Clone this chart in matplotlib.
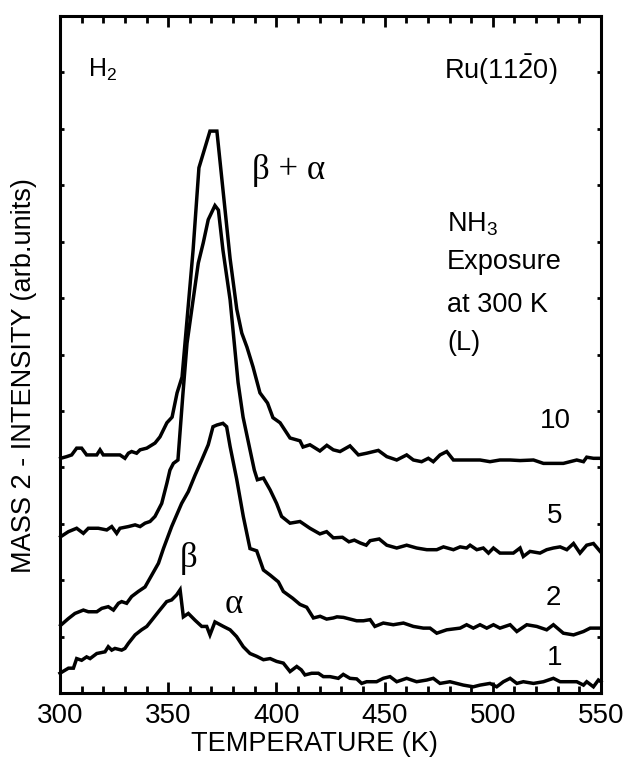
import matplotlib
matplotlib.use("Agg")
import matplotlib.pyplot as plt
from matplotlib.ticker import MultipleLocator

plt.rcParams["font.family"] = ["Liberation Sans", "DejaVu Sans"]
plt.rcParams["mathtext.fontset"] = "custom"
plt.rcParams["mathtext.rm"] = "Liberation Sans"
plt.rcParams["mathtext.it"] = "Liberation Sans"

# Thermal desorption traces of H2 (mass 2), offset vertically by exposure
t_10 = [300.3, 303.1, 305.4, 307.7, 310.0, 312.3, 317.0, 318.5, 320.0, 327.7, 330.0,
        331.6, 333.1, 335.4, 337.0, 340.1, 343.9, 346.2, 349.4, 351.8, 354.1, 356.4,
        361.5, 364.2, 369.3, 372.5, 378.6, 381.7, 384.0, 386.4, 389.2, 392.4, 395.9,
        398.4, 401.7, 406.3, 410.9, 412.3, 415.5, 420.1, 423.3, 426.3, 429.4, 434.0,
        437.9, 441.7, 447.1, 451.0, 455.6, 460.2, 463.3, 467.1, 470.2, 472.5, 475.6,
        478.7, 481.8, 487.9, 494.1, 498.7, 503.3, 508.0, 512.6, 518.8, 523.4, 532.6,
        538.8, 541.9, 543.4, 546.5, 550.0]
i_10 = [4.16, 4.19, 4.22, 4.34, 4.34, 4.22, 4.22, 4.31, 4.22, 4.22, 4.16,
        4.25, 4.28, 4.25, 4.31, 4.34, 4.43, 4.54, 4.79, 4.89, 5.32, 5.60,
        7.85, 9.31, 9.96, 9.96, 7.70, 6.80, 6.38, 6.13, 5.78, 5.32, 5.14,
        4.88, 4.79, 4.52, 4.47, 4.36, 4.40, 4.29, 4.39, 4.31, 4.28, 4.38,
        4.22, 4.25, 4.30, 4.19, 4.13, 4.22, 4.13, 4.10, 4.16, 4.10, 4.22,
        4.28, 4.13, 4.13, 4.13, 4.10, 4.13, 4.13, 4.12, 4.13, 4.07, 4.07,
        4.13, 4.10, 4.18, 4.16, 4.16]

t_5 = [300.3, 303.9, 307.7, 310.8, 313.1, 317.7, 321.6, 323.9, 326.2, 327.7, 331.6,
       334.7, 337.0, 339.3, 341.6, 343.9, 347.0, 349.4, 350.8, 352.4, 354.5, 356.8,
       358.7, 363.9, 366.2, 368.5, 371.6, 373.2, 375.3, 378.6, 382.3, 384.6, 387.8,
       389.8, 391.2, 394.0, 397.1, 400.1, 402.4, 406.3, 410.9, 415.5, 420.1, 423.2,
       426.3, 430.5, 433.5, 436.0, 438.7, 441.5, 443.3, 447.5, 451.0, 455.6, 460.2,
       464.8, 469.5, 474.1, 477.2, 481.8, 484.9, 487.9, 489.5, 492.6, 495.6, 498.0,
       500.3, 503.3, 509.5, 512.6, 514.1, 517.2, 521.8, 524.9, 528.0, 531.1, 534.2,
       537.3, 540.3, 543.4, 546.5, 549.6]
i_5 = [2.77, 2.86, 2.92, 2.83, 2.92, 2.92, 2.89, 2.95, 2.83, 2.92, 2.95,
       2.98, 2.95, 3.01, 3.04, 3.13, 3.36, 3.72, 3.95, 4.07, 4.13, 5.30,
       6.20, 7.62, 7.98, 8.39, 8.64, 8.56, 7.85, 6.97, 5.50, 4.89, 4.31,
       3.95, 3.78, 3.81, 3.60, 3.36, 3.13, 3.01, 3.04, 2.92, 2.82, 2.86,
       2.75, 2.76, 2.68, 2.71, 2.66, 2.62, 2.70, 2.73, 2.62, 2.57, 2.62,
       2.57, 2.54, 2.54, 2.59, 2.54, 2.59, 2.57, 2.62, 2.54, 2.57, 2.48,
       2.57, 2.48, 2.48, 2.57, 2.42, 2.51, 2.48, 2.54, 2.57, 2.59, 2.54,
       2.65, 2.48, 2.62, 2.65, 2.51]

t_2 = [300.3, 303.9, 306.9, 310.8, 313.1, 317.0, 319.3, 322.3, 324.7, 327.0, 328.5,
       330.8, 333.1, 336.2, 339.3, 342.4, 345.5, 347.8, 351.6, 356.2, 359.3, 362.4,
       365.5, 368.5, 370.7, 372.5, 375.3, 377.0, 378.6, 381.6, 384.7, 387.8, 390.9,
       394.0, 397.1, 400.9, 403.2, 407.5, 410.9, 414.0, 417.1, 420.2, 423.2, 426.3,
       428.0, 431.0, 437.1, 440.2, 443.3, 445.5, 449.4, 454.0, 458.7, 463.3, 467.9,
       471.0, 474.1, 478.7, 484.9, 487.9, 491.0, 494.1, 497.2, 500.3, 503.3, 508.0,
       511.1, 515.7, 520.3, 524.9, 528.0, 532.6, 537.3, 541.9, 545.0, 549.6]
i_2 = [1.20, 1.32, 1.41, 1.47, 1.44, 1.44, 1.50, 1.53, 1.47, 1.59, 1.62,
       1.59, 1.71, 1.80, 1.88, 2.09, 2.30, 2.56, 2.95, 3.36, 3.57, 3.86,
       4.13, 4.40, 4.72, 4.75, 4.78, 4.72, 4.37, 3.80, 3.13, 2.56, 2.52,
       2.18, 2.09, 1.97, 1.80, 1.68, 1.57, 1.52, 1.33, 1.36, 1.31, 1.33,
       1.35, 1.34, 1.28, 1.28, 1.30, 1.18, 1.24, 1.21, 1.24, 1.18, 1.15,
       1.15, 1.06, 1.12, 1.15, 1.21, 1.15, 1.21, 1.15, 1.21, 1.15, 1.21,
       1.09, 1.21, 1.18, 1.12, 1.21, 1.06, 1.03, 1.09, 1.15, 1.15]

t_1 = [300.0, 303.9, 306.2, 307.7, 310.0, 312.3, 313.9, 317.0, 320.8, 322.3, 323.9,
       325.4, 328.5, 330.0, 331.6, 334.7, 337.7, 340.1, 342.4, 345.5, 349.3, 351.6,
       353.9, 355.5, 357.0, 359.3, 362.4, 365.5, 367.8, 369.3, 371.6, 375.5, 378.6,
       381.6, 384.7, 387.8, 390.9, 394.0, 397.1, 400.1, 403.2, 406.3, 409.4, 411.5,
       413.2, 416.3, 419.4, 421.7, 424.8, 428.6, 430.9, 434.0, 437.1, 439.4, 441.7,
       446.3, 449.4, 452.5, 455.6, 460.2, 464.8, 469.5, 472.5, 475.6, 480.2, 486.4,
       491.0, 494.1, 498.7, 501.8, 504.9, 508.0, 511.1, 514.1, 518.8, 523.4, 528.0,
       531.1, 534.2, 538.8, 541.9, 543.4, 546.5, 548.8, 550.0]
i_1 = [0.35, 0.44, 0.44, 0.61, 0.58, 0.64, 0.61, 0.70, 0.73, 0.82, 0.76,
       0.79, 0.76, 0.79, 0.88, 1.03, 1.12, 1.18, 1.29, 1.44, 1.62, 1.65,
       1.74, 1.83, 1.35, 1.41, 1.29, 1.18, 1.18, 1.03, 1.26, 1.18, 1.12,
       1.00, 0.82, 0.70, 0.65, 0.59, 0.61, 0.56, 0.53, 0.38, 0.47, 0.41,
       0.32, 0.35, 0.35, 0.29, 0.29, 0.26, 0.33, 0.26, 0.25, 0.17, 0.20,
       0.20, 0.26, 0.29, 0.20, 0.26, 0.20, 0.23, 0.26, 0.17, 0.20, 0.14,
       0.11, 0.14, 0.17, 0.11, 0.20, 0.26, 0.17, 0.20, 0.17, 0.20, 0.26,
       0.20, 0.20, 0.20, 0.14, 0.20, 0.11, 0.23, 0.20]

exposure_labels = ["10", "5", "2", "1"]
label_x = [528.7, 528.7, 527.8, 528.7]
label_y = [4.82, 3.14, 1.68, 0.62]

fig = plt.figure(figsize=(6.24, 7.58), dpi=100)
ax = fig.add_axes([60 / 624, 65 / 758, 541 / 624, 677 / 758])

lw = 2.5
for t, i in [(t_10, i_10), (t_5, i_5), (t_2, i_2), (t_1, i_1)]:
    ax.plot(t, i, color="black", lw=lw, solid_joinstyle="miter", clip_on=False)

ax.set_xlim(300, 550)
ax.set_ylim(0, 12)

for sp in ax.spines.values():
    sp.set_linewidth(2.2)

ax.xaxis.set_major_locator(MultipleLocator(50))
ax.xaxis.set_minor_locator(MultipleLocator(10))
ax.yaxis.set_major_locator(MultipleLocator(1))
ax.tick_params(axis="x", which="major", direction="in", length=8, width=2,
               top=True, labelsize=20, pad=7)
ax.tick_params(axis="x", which="minor", direction="in", length=5, width=2, top=True)
ax.tick_params(axis="y", which="major", direction="in", length=3, width=2,
               right=True, labelleft=False)

fig.text(314 / 624, 1 - 757 / 758, "TEMPERATURE (K)", ha="center", va="bottom",
         fontsize=19.5)
fig.text(24 / 624, 1 - 376 / 758, "MASS 2 - INTENSITY (arb.units)", ha="center",
         va="center", rotation=90, fontsize=19.5)

ax.text(312.8, 11.05, r"H$_2$", fontsize=18, ha="left", va="center")
ax.text(529.7, 11.05, r"Ru(11$\mathrm{\bar{2}}$0)", fontsize=19.5, ha="right", va="center")
ax.text(388.7, 9.27, "β + α", fontsize=25, family="Liberation Serif", ha="left", va="center")
ax.text(359.6, 2.39, "β", fontsize=25, family="Liberation Serif", ha="center", va="center")
ax.text(380.4, 1.56, "α", fontsize=25, family="Liberation Serif", ha="center", va="center")

ax.text(478.8, 8.30, r"NH$_3$", fontsize=19.5, ha="left", va="center")
ax.text(478.8, 7.64, "Exposure", fontsize=19.5, ha="left", va="center")
ax.text(478.8, 6.88, "at 300 K", fontsize=19.5, ha="left", va="center")
ax.text(478.8, 6.21, "(L)", fontsize=19.5, ha="left", va="center")

for lab, x, y in zip(exposure_labels, label_x, label_y):
    ax.text(x, y, lab, fontsize=20, ha="center", va="center")

fig.savefig("out.png", dpi=100)
